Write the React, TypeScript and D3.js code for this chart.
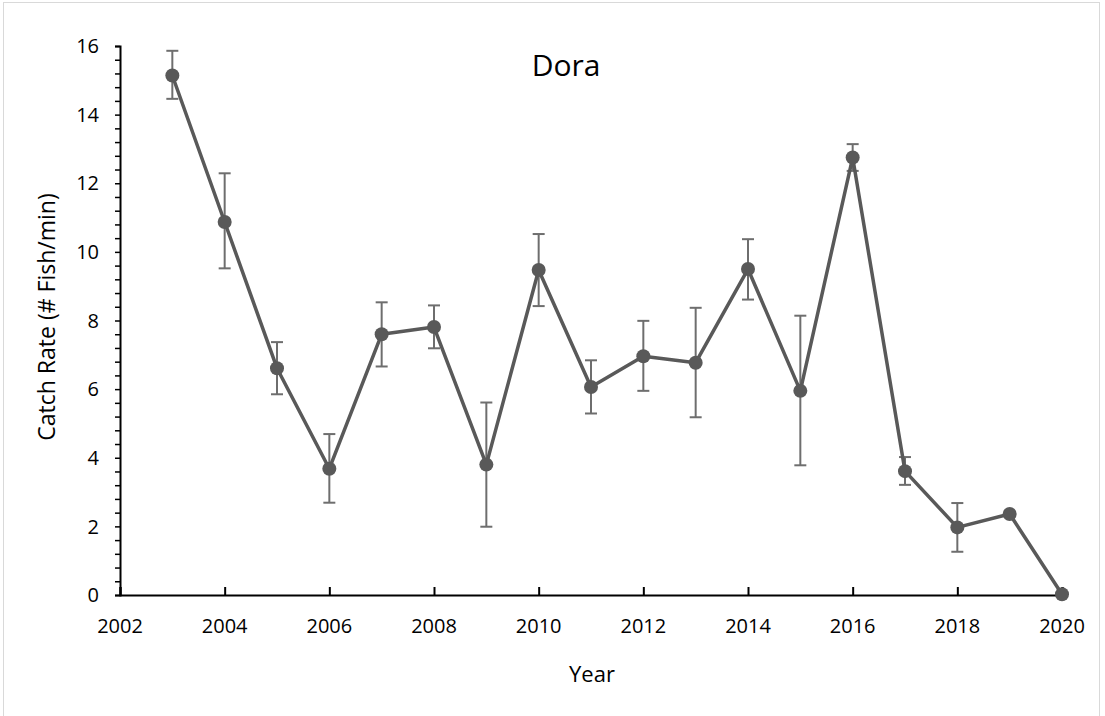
import React, { useRef, useEffect } from 'react';
import * as d3 from 'd3';

// values
const years = [2003, 2004, 2005, 2006, 2007, 2008, 2009, 2010, 2011, 2012, 2013, 2014, 2015, 2016, 2017, 2018, 2019, 2020];
const catchRate = [15.14, 10.87, 6.61, 3.68, 7.6, 7.81, 3.8, 9.47, 6.06, 6.96, 6.77, 9.5, 5.95, 12.75, 3.61, 1.97, 2.36, 0.02];
const errHigh = [15.86, 12.29, 7.37, 4.69, 8.53, 8.44, 5.61, 10.52, 6.84, 7.99, 8.37, 10.37, 8.14, 13.14, 4.02, 2.68, null, null];
const errLow = [14.46, 9.52, 5.85, 2.69, 6.66, 7.19, 1.99, 8.42, 5.29, 5.95, 5.18, 8.61, 3.78, 12.36, 3.21, 1.26, null, null];
const xTicks = [2002, 2004, 2006, 2008, 2010, 2012, 2014, 2016, 2018, 2020];
const yTicks = [0, 2, 4, 6, 8, 10, 12, 14, 16];

const W = 1105;
const H = 716;
const FONT = "'Open Sans', sans-serif";

const App = () => {
  const svgRef = useRef<SVGSVGElement>(null);

  useEffect(() => {
    document.body.style.margin = '0';
    const svg = d3.select(svgRef.current);
    svg.selectAll('*').remove();

    const margin = { top: 46, right: 43, bottom: 121, left: 120 };
    const x = d3.scaleLinear().domain([2002, 2020]).range([margin.left, W - margin.right]);
    const y = d3.scaleLinear().domain([0, 16]).range([H - margin.bottom, margin.top]);

    // chart border
    svg.append('rect')
      .attr('x', 3.5).attr('y', 2.5)
      .attr('width', 1096).attr('height', 720)
      .attr('fill', 'white').attr('stroke', '#d9d9d9').attr('stroke-width', 1);

    // y axis with minor ticks
    const yAxis = svg.append('g').attr('transform', `translate(${margin.left},0)`);
    yAxis.call(d3.axisLeft(y).tickValues(d3.range(0, 16.01, 0.4)).tickSize(5).tickFormat(() => ''));
    yAxis.select('.domain').attr('stroke', '#000').attr('stroke-width', 2);
    yAxis.selectAll('.tick line').attr('stroke', '#000').attr('stroke-width', 1.5);
    yAxis.selectAll('.tick text').remove();
    yAxis.selectAll('text.lbl')
      .data(yTicks)
      .join('text')
      .attr('class', 'lbl')
      .attr('x', -21)
      .attr('y', (d) => y(d))
      .attr('dy', '0.36em')
      .attr('text-anchor', 'end')
      .style('font-family', FONT)
      .style('font-size', '20px')
      .attr('fill', '#000')
      .text((d) => d);

    // x axis, ticks pointing up
    const xAxis = svg.append('g').attr('transform', `translate(0,${y(0)})`);
    xAxis.call(d3.axisTop(x).tickValues(xTicks).tickSize(8).tickFormat(() => ''));
    xAxis.select('.domain').attr('stroke', '#000').attr('stroke-width', 2);
    xAxis.selectAll('.tick line').attr('stroke', '#000').attr('stroke-width', 2);
    xAxis.selectAll('.tick text').remove();
    xAxis.selectAll('text.lbl')
      .data(xTicks)
      .join('text')
      .attr('class', 'lbl')
      .attr('x', (d) => x(d))
      .attr('y', 38)
      .attr('text-anchor', 'middle')
      .style('font-family', FONT)
      .style('font-size', '20px')
      .attr('fill', '#000')
      .text((d) => d);

    // error bars
    const errs = years
      .map((yr, i) => ({ yr, lo: errLow[i], hi: errHigh[i] }))
      .filter((d) => d.lo !== null && d.hi !== null);
    const eg = svg.append('g').attr('stroke', '#6e6e6e').attr('stroke-width', 2).attr('fill', 'none');
    errs.forEach((d) => {
      const cx = x(d.yr);
      eg.append('line').attr('x1', cx).attr('x2', cx).attr('y1', y(d.lo as number)).attr('y2', y(d.hi as number));
      eg.append('line').attr('x1', cx - 6).attr('x2', cx + 6).attr('y1', y(d.hi as number)).attr('y2', y(d.hi as number));
      eg.append('line').attr('x1', cx - 6).attr('x2', cx + 6).attr('y1', y(d.lo as number)).attr('y2', y(d.lo as number));
    });

    // line
    const pts = years.map((yr, i) => [yr, catchRate[i]] as [number, number]);
    const line = d3.line<[number, number]>().x((d) => x(d[0])).y((d) => y(d[1]));
    svg.append('path')
      .datum(pts)
      .attr('d', line)
      .attr('fill', 'none')
      .attr('stroke', '#595959')
      .attr('stroke-width', 3.5)
      .attr('stroke-linejoin', 'round');

    // markers
    svg.append('g')
      .selectAll('circle')
      .data(pts)
      .join('circle')
      .attr('cx', (d) => x(d[0]))
      .attr('cy', (d) => y(d[1]))
      .attr('r', 7)
      .attr('fill', '#595959');

    // title and axis labels
    svg.append('text')
      .attr('x', 566).attr('y', 76)
      .attr('text-anchor', 'middle')
      .style('font-family', FONT).style('font-size', '30px')
      .attr('fill', '#000')
      .text('Dora');

    svg.append('text')
      .attr('x', 592).attr('y', 682)
      .attr('text-anchor', 'middle')
      .style('font-family', FONT).style('font-size', '22px')
      .attr('fill', '#000')
      .text('Year');

    svg.append('text')
      .attr('transform', `translate(55,${317}) rotate(-90)`)
      .attr('text-anchor', 'middle')
      .style('font-family', FONT).style('font-size', '23px')
      .attr('fill', '#000')
      .text('Catch Rate (# Fish/min)');
  }, []);

  return (
    <div style={{ width: W, height: H, overflow: 'hidden', background: 'white' }}>
      <svg ref={svgRef} width={W} height={H} />
    </div>
  );
};

export default App;
